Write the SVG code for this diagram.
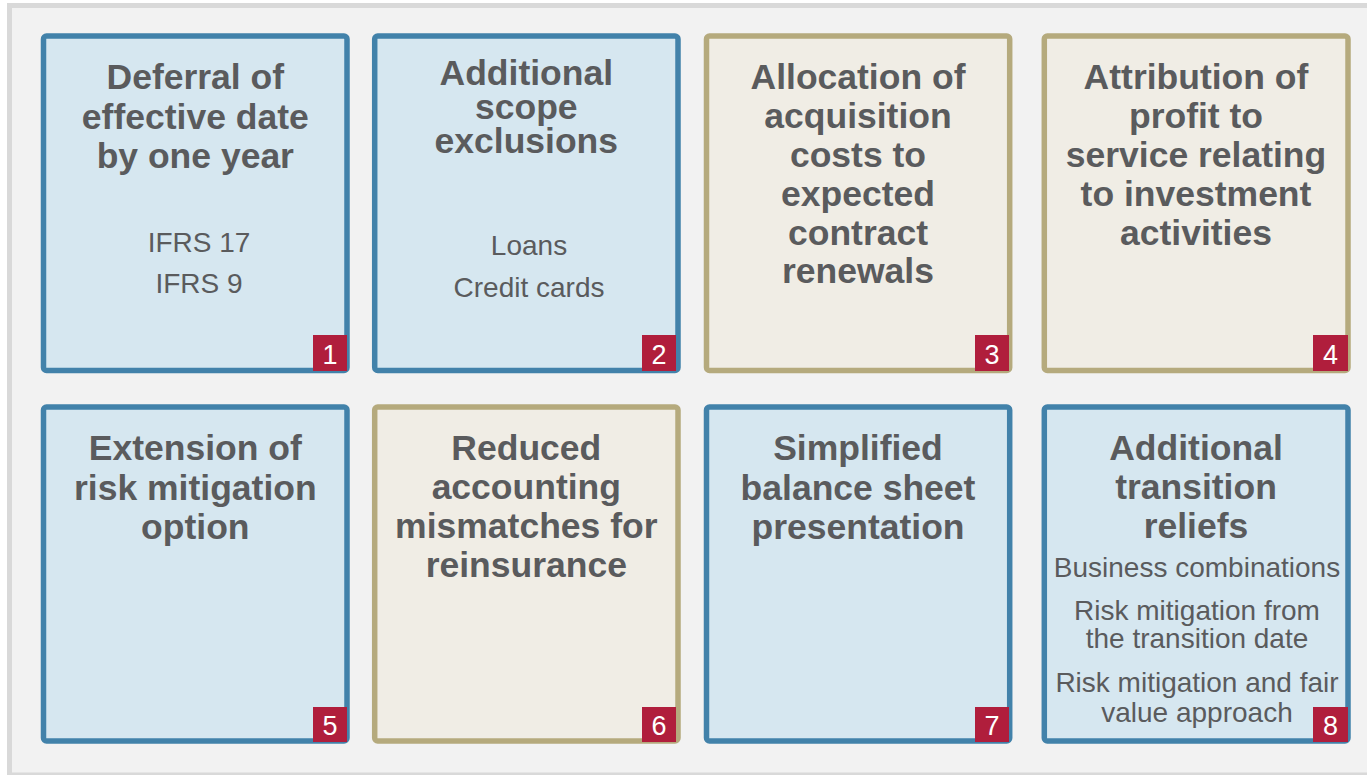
<svg xmlns="http://www.w3.org/2000/svg" width="1367" height="775" viewBox="0 0 1367 775">
<style>
.blue{fill:#d6e7f0;stroke:#4282aa;stroke-width:5.5}
.tan{fill:#f0ede5;stroke:#b5aa7d;stroke-width:5.5}
.badge{fill:#b01e3c}
.num{font-family:"Liberation Sans",Arial,sans-serif;font-size:27px;fill:#ffffff;text-anchor:middle}
.title{font-family:"Liberation Sans",Arial,sans-serif;font-size:35.5px;font-weight:bold;fill:#5a5b5d;text-anchor:middle}
.body{font-family:"Liberation Sans",Arial,sans-serif;font-size:28px;fill:#5a5b5d;text-anchor:middle}
</style>
<rect x="9.5" y="5.5" width="1370" height="769.5" fill="#f2f2f2" stroke="#d9d9d9" stroke-width="5"/>
<g id="connectors"></g>
<g id="node1">
<rect class="blue" x="43.5" y="36" width="303.5" height="334.5" rx="3"/>
<text class="title" x="195.3" y="89">Deferral of</text>
<text class="title" x="195.3" y="128.5">effective date</text>
<text class="title" x="195.3" y="167.5">by one year</text>
<text class="body" x="199" y="252">IFRS 17</text>
<text class="body" x="199" y="293">IFRS 9</text>
<rect class="badge" x="313" y="335" width="34" height="36"/>
<text class="num" x="330" y="364">1</text>
</g>
<g id="node2">
<rect class="blue" x="374.7" y="36" width="303.3" height="334.5" rx="3"/>
<text class="title" x="526.3" y="85">Additional</text>
<text class="title" x="526.3" y="119">scope</text>
<text class="title" x="526.3" y="153">exclusions</text>
<text class="body" x="529" y="255">Loans</text>
<text class="body" x="529" y="297">Credit cards</text>
<rect class="badge" x="642" y="335" width="34" height="36"/>
<text class="num" x="659" y="364">2</text>
</g>
<g id="node3">
<rect class="tan" x="706.5" y="36" width="303.2" height="334.5" rx="3"/>
<text class="title" x="858" y="89.3">Allocation of</text>
<text class="title" x="858" y="128.3">acquisition</text>
<text class="title" x="858" y="167.3">costs to</text>
<text class="title" x="858" y="206">expected</text>
<text class="title" x="858" y="245">contract</text>
<text class="title" x="858" y="283">renewals</text>
<rect class="badge" x="975" y="335" width="34" height="36"/>
<text class="num" x="992" y="364">3</text>
</g>
<g id="node4">
<rect class="tan" x="1044.3" y="36" width="303.7" height="334.5" rx="3"/>
<text class="title" x="1196" y="89.3">Attribution of</text>
<text class="title" x="1196" y="128.3">profit to</text>
<text class="title" x="1196" y="167.3">service relating</text>
<text class="title" x="1196" y="206">to investment</text>
<text class="title" x="1196" y="245">activities</text>
<rect class="badge" x="1313" y="335" width="35" height="36"/>
<text class="num" x="1330.5" y="364">4</text>
</g>
<g id="node5">
<rect class="blue" x="43.5" y="407" width="303.5" height="334" rx="3"/>
<text class="title" x="195.3" y="460">Extension of</text>
<text class="title" x="195.3" y="499.5">risk mitigation</text>
<text class="title" x="195.3" y="538.5">option</text>
<rect class="badge" x="313" y="707" width="34" height="35"/>
<text class="num" x="330" y="735">5</text>
</g>
<g id="node6">
<rect class="tan" x="374.7" y="407" width="303.3" height="334" rx="3"/>
<text class="title" x="526.3" y="460">Reduced</text>
<text class="title" x="526.3" y="499.3">accounting</text>
<text class="title" x="526.3" y="538.3">mismatches for</text>
<text class="title" x="526.3" y="577">reinsurance</text>
<rect class="badge" x="642" y="707" width="34" height="35"/>
<text class="num" x="659" y="735">6</text>
</g>
<g id="node7">
<rect class="blue" x="706.5" y="407" width="303.2" height="334" rx="3"/>
<text class="title" x="858" y="460">Simplified</text>
<text class="title" x="858" y="499.5">balance sheet</text>
<text class="title" x="858" y="538.5">presentation</text>
<rect class="badge" x="975" y="707" width="34" height="35"/>
<text class="num" x="992" y="735">7</text>
</g>
<g id="node8">
<rect class="blue" x="1044.3" y="407" width="303.7" height="334" rx="3"/>
<text class="title" x="1196" y="460">Additional</text>
<text class="title" x="1196" y="499.3">transition</text>
<text class="title" x="1196" y="538.3">reliefs</text>
<text class="body" x="1197" y="577">Business combinations</text>
<text class="body" x="1197" y="620">Risk mitigation from</text>
<text class="body" x="1197" y="648.3">the transition date</text>
<text class="body" x="1197" y="691.7">Risk mitigation and fair</text>
<text class="body" x="1197" y="721.7">value approach</text>
<rect class="badge" x="1313" y="707" width="35" height="35"/>
<text class="num" x="1330.5" y="735">8</text>
</g>
</svg>
